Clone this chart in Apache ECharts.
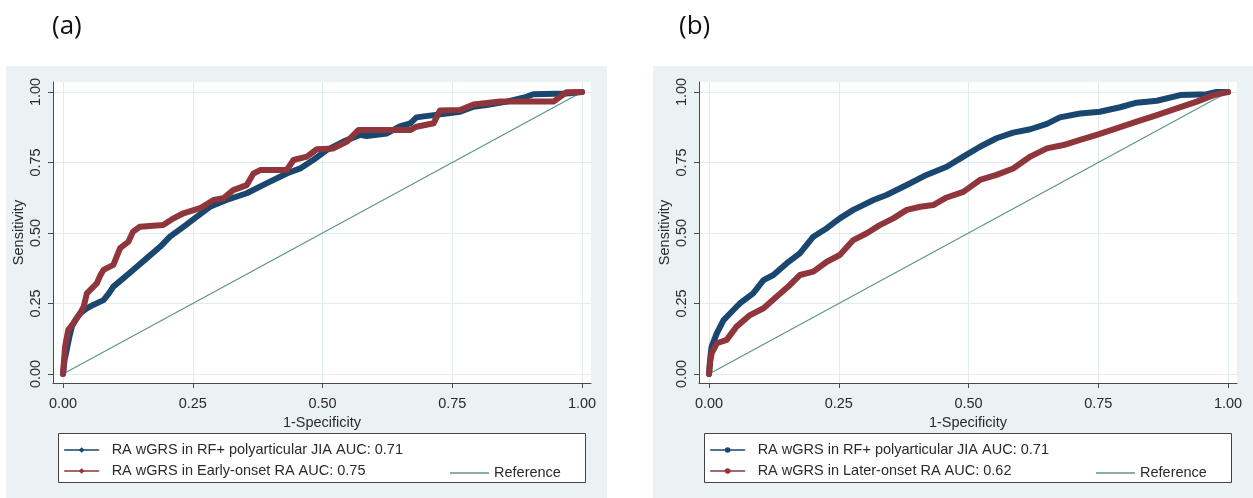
<!DOCTYPE html>
<html>
<head>
<meta charset="utf-8">
<script src="https://cdn.jsdelivr.net/npm/echarts@6/dist/echarts.min.js"></script>
<style>
html,body{margin:0;padding:0;background:#fff;}
#chart{width:1253px;height:498px;}
</style>
</head>
<body>
<div id="chart"></div>
<script>
// ---------- data ----------
const tickValues = [0, 0.25, 0.5, 0.75, 1];
const tickLabels = ['0.00', '0.25', '0.50', '0.75', '1.00'];
const panelTitles = ['(a)', '(b)'];
const xName = '1-Specificity';
const yName = 'Sensitivity';

// panel (a)
const aJiaName = 'RA wGRS in RF+ polyarticular JIA AUC: 0.71';
const aJiaFpr = [0,0.003,0.007,0.012,0.017,0.025,0.033,0.045,0.058,0.078,0.088,0.097,0.116,0.135,0.161,0.187,0.206,0.232,0.258,0.283,0.315,0.354,0.392,0.431,0.457,0.482,0.508,0.54,0.572,0.585,0.624,0.649,0.669,0.681,0.714,0.739,0.765,0.791,0.816,0.855,0.893,0.906,0.97,1];
const aJiaTpr = [0,0.05,0.085,0.13,0.168,0.195,0.215,0.232,0.245,0.262,0.285,0.31,0.339,0.369,0.41,0.451,0.487,0.522,0.558,0.593,0.617,0.641,0.676,0.711,0.729,0.759,0.794,0.824,0.848,0.844,0.853,0.878,0.889,0.91,0.918,0.924,0.93,0.948,0.954,0.966,0.983,0.992,0.995,1];
const aRaName = 'RA wGRS in Early-onset RA AUC: 0.75';
const aRaFpr = [0,0.002,0.004,0.01,0.02,0.033,0.04,0.046,0.065,0.072,0.078,0.097,0.11,0.126,0.135,0.148,0.193,0.213,0.232,0.264,0.29,0.309,0.328,0.354,0.367,0.38,0.431,0.444,0.47,0.489,0.521,0.547,0.569,0.669,0.681,0.714,0.726,0.765,0.791,0.842,0.945,0.97,1];
const aRaTpr = [0,0.05,0.097,0.156,0.18,0.215,0.24,0.286,0.321,0.35,0.369,0.387,0.446,0.469,0.505,0.522,0.528,0.552,0.57,0.588,0.617,0.623,0.652,0.67,0.711,0.723,0.723,0.759,0.771,0.797,0.8,0.824,0.865,0.865,0.877,0.889,0.934,0.936,0.956,0.966,0.966,0.999,1];

// panel (b)
const bJiaName = 'RA wGRS in RF+ polyarticular JIA AUC: 0.71';
const bJiaFpr = [0,0.002,0.005,0.015,0.028,0.047,0.06,0.085,0.105,0.124,0.15,0.175,0.201,0.227,0.252,0.278,0.317,0.342,0.381,0.419,0.458,0.49,0.522,0.554,0.586,0.619,0.651,0.676,0.715,0.753,0.792,0.824,0.863,0.908,0.959,0.978,1];
const bJiaTpr = [0,0.05,0.097,0.144,0.191,0.227,0.251,0.286,0.333,0.351,0.393,0.428,0.487,0.517,0.552,0.582,0.617,0.635,0.67,0.706,0.735,0.771,0.806,0.836,0.856,0.868,0.887,0.91,0.924,0.93,0.946,0.962,0.969,0.989,0.992,1,1];
const bRaName = 'RA wGRS in Later-onset RA AUC: 0.62';
const bRaFpr = [0,0.002,0.005,0.015,0.034,0.053,0.079,0.105,0.13,0.156,0.175,0.201,0.227,0.252,0.278,0.304,0.329,0.355,0.381,0.407,0.432,0.458,0.49,0.522,0.554,0.586,0.619,0.651,0.683,0.715,0.747,0.785,0.824,0.863,0.901,0.94,0.972,1];
const bRaTpr = [0,0.04,0.073,0.109,0.121,0.168,0.209,0.233,0.274,0.316,0.351,0.363,0.398,0.422,0.475,0.499,0.528,0.552,0.582,0.593,0.599,0.626,0.646,0.688,0.706,0.729,0.771,0.8,0.812,0.83,0.848,0.871,0.895,0.918,0.942,0.966,0.989,1];

// reference diagonal
const refName = 'Reference';
const refFpr = [0, 1];
const refTpr = [0, 1];

// ---------- styling ----------
const NAVY = '#1a476f';
const MAROON = '#90353b';
const TEAL = '#5e9488';
const PANEL_BG = '#eaf2f3';
const GRID_LINE = '#e2ecee';
const AXIS_COL = '#4a4a4a';
const TEXT_COL = '#2b2b2b';
const FONT = 'Liberation Sans';
const FS = 14.5;

function zip(xs, ys) { return xs.map((x, i) => [x, ys[i]]); }

const panels = [
  { dx: 0,   bgX: 6,   bgW: 601, jia: [aJiaName, aJiaFpr, aJiaTpr], ra: [aRaName, aRaFpr, aRaTpr], sym: 'diamond', symW: [6, 7] },
  { dx: 646, bgX: 653, bgW: 600, jia: [bJiaName, bJiaFpr, bJiaTpr], ra: [bRaName, bRaFpr, bRaTpr], sym: 'circle', symW: [6, 6] }
];

const grids = [], xAxes = [], yAxes = [], series = [], legends = [], graphics = [], titles = [];

panels.forEach((p, i) => {
  const dx = p.dx;
  const suffix = i === 0 ? '' : ' ';
  graphics.push({ type: 'rect', z: -10, silent: true,
    shape: { x: p.bgX, y: 66, width: p.bgW, height: 432 },
    style: { fill: PANEL_BG } });
  graphics.push({ type: 'rect', z: 1, silent: true,
    shape: { x: 58.5 + dx, y: 433.5, width: 527, height: 49 },
    style: { fill: '#ffffff', stroke: '#444', lineWidth: 1 } });
  titles.push({ text: panelTitles[i], left: (i === 0 ? 52 : 679), top: 14, padding: 0,
    textStyle: { fontFamily: 'Open Sans', fontSize: 26, fontWeight: 'normal', color: '#111' } });

  grids.push({ left: 53 + dx, top: 82, width: 538, height: 301, show: true,
    backgroundColor: '#ffffff', borderWidth: 0 });
  xAxes.push({ type: 'value', gridIndex: i, min: -0.0193, max: 1.0173,
    name: xName, nameLocation: 'middle', nameGap: 24,
    nameTextStyle: { fontFamily: FONT, fontSize: FS, color: TEXT_COL },
    axisLine: { show: true, onZero: false, lineStyle: { color: AXIS_COL, width: 1 } },
    axisTick: { show: true, length: 5, customValues: tickValues, lineStyle: { color: AXIS_COL } },
    axisLabel: { customValues: tickValues, margin: 13, fontFamily: FONT, fontSize: FS, color: TEXT_COL,
      formatter: v => tickLabels[tickValues.indexOf(Math.round(v * 100) / 100)] },
    splitLine: { show: true, lineStyle: { color: GRID_LINE, width: 1 } } });
  yAxes.push({ type: 'value', gridIndex: i, min: -0.0319, max: 1.0355,
    name: yName, nameLocation: 'middle', nameGap: 27, nameRotate: 90,
    nameTextStyle: { fontFamily: FONT, fontSize: FS, color: TEXT_COL },
    axisLine: { show: true, onZero: false, lineStyle: { color: AXIS_COL, width: 1 } },
    axisTick: { show: true, length: 5, customValues: tickValues, lineStyle: { color: AXIS_COL } },
    axisLabel: { customValues: tickValues, rotate: 90, margin: 10, fontFamily: FONT, fontSize: FS, color: TEXT_COL,
      formatter: v => tickLabels[tickValues.indexOf(Math.round(v * 100) / 100)] },
    splitLine: { show: true, lineStyle: { color: GRID_LINE, width: 1 } } });

  series.push({ type: 'line', name: refName + suffix, xAxisIndex: i, yAxisIndex: i,
    data: zip(refFpr, refTpr), symbol: 'none', silent: true,
    lineStyle: { color: TEAL, width: 1.2 }, itemStyle: { color: TEAL }, z: 2 });
  series.push({ type: 'line', name: p.jia[0] + suffix, xAxisIndex: i, yAxisIndex: i,
    data: zip(p.jia[1], p.jia[2]), symbol: p.sym, symbolSize: p.symW, showSymbol: false, silent: true,
    lineStyle: { color: NAVY, width: 6, cap: 'round', join: 'round' }, itemStyle: { color: NAVY }, z: 3 });
  series.push({ type: 'line', name: p.ra[0] + suffix, xAxisIndex: i, yAxisIndex: i,
    data: zip(p.ra[1], p.ra[2]), symbol: p.sym, symbolSize: p.symW, showSymbol: false, silent: true,
    lineStyle: { color: MAROON, width: 6, cap: 'round', join: 'round' }, itemStyle: { color: MAROON }, z: 4 });

  const legBase = { orient: 'horizontal', selectedMode: false, itemWidth: 34, itemHeight: 7, z: 5, padding: 0,
    lineStyle: { width: 1.3 },
    formatter: n => n.trim(),
    textStyle: { fontFamily: FONT, fontSize: FS, color: TEXT_COL, lineHeight: 16, padding: [0, 0, 0, 8] } };
  legends.push(Object.assign({}, legBase, { left: 64 + dx, top: 442, data: [p.jia[0] + suffix] }));
  legends.push(Object.assign({}, legBase, { left: 64 + dx, top: 463, data: [p.ra[0] + suffix] }));
  legends.push(Object.assign({}, legBase, { left: 450 + dx, top: 465, itemWidth: 39, itemHeight: 1.4,
    textStyle: Object.assign({}, legBase.textStyle, { padding: [0, 0, 0, 0] }),
    data: [{ name: refName + suffix, icon: 'rect' }] }));
});

const chart = echarts.init(document.getElementById('chart'), null, { renderer: 'canvas' });
chart.setOption({
  animation: false,
  backgroundColor: '#ffffff',
  title: titles,
  grid: grids,
  xAxis: xAxes,
  yAxis: yAxes,
  legend: legends,
  graphic: graphics,
  series: series
});
</script>
</body>
</html>
